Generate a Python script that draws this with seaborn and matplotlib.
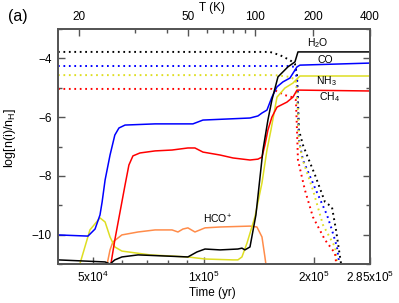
import numpy as np
import pandas as pd
import matplotlib
matplotlib.use("Agg")
import matplotlib.pyplot as plt
import seaborn as sns
from matplotlib.ticker import FixedLocator, NullFormatter, FixedFormatter

# ---------------- data (time in yr, log abundance) ----------------
h2o_t = [4.00e4, 5.38e4, 5.55e4, 5.72e4, 5.98e4, 6.62e4, 9.06e4, 9.59e4, 1.009e5, 1.109e5,
         1.241e5, 1.273e5, 1.297e5, 1.339e5, 1.390e5, 1.453e5, 1.499e5, 1.537e5, 1.597e5,
         1.700e5, 1.777e5, 1.811e5, 2.85e5]
h2o_v = [-10.86, -10.93, -11.0, -10.86, -10.76, -10.69, -10.76, -10.59, -10.49, -10.52,
         -10.49, -10.46, -10.52, -10.42, -9.33, -7.12, -6.10, -5.42, -4.63,
         -4.29, -4.12, -3.78, -3.78]

co_t = [4.00e4, 4.83e4, 5.05e4, 5.21e4, 5.28e4, 5.38e4, 5.55e4, 5.72e4, 5.87e4, 6.10e4,
        7.37e4, 9.35e4, 9.96e4, 1.180e5, 1.339e5, 1.408e5, 1.444e5, 1.490e5, 1.537e5,
        1.587e5, 1.648e5, 1.722e5, 1.800e5, 1.834e5, 2.85e5]
co_v = [-10.01, -10.05, -9.81, -9.33, -8.89, -8.14, -7.29, -6.61, -6.37, -6.27,
        -6.23, -6.23, -6.10, -6.06, -6.03, -5.96, -5.86, -5.76, -5.32,
        -4.97, -4.80, -4.67, -4.29, -4.23, -4.16]

ch4_t = [5.45e4, 5.58e4, 5.72e4, 5.91e4, 6.10e4, 6.25e4, 6.41e4, 6.70e4, 7.37e4, 8.20e4,
         9.06e4, 9.47e4, 9.96e4, 1.109e5, 1.203e5, 1.339e5, 1.408e5, 1.444e5, 1.471e5,
         1.499e5, 1.537e5, 1.587e5, 1.689e5, 1.755e5, 1.800e5, 1.822e5, 2.85e5]
ch4_v = [-11.27, -11.0, -10.18, -9.23, -8.31, -7.63, -7.32, -7.22, -7.15, -7.12,
         -7.05, -7.05, -7.19, -7.29, -7.39, -7.46, -7.43, -7.36, -6.95,
         -6.44, -6.00, -5.66, -5.49, -5.32, -5.08, -5.08, -5.11]

nh3_t = [4.54e4, 4.59e4, 4.89e4, 5.21e4, 5.38e4, 5.55e4, 5.72e4, 5.98e4, 7.14e4, 9.06e4,
         1.009e5, 1.203e5, 1.241e5, 1.273e5, 1.314e5, 1.381e5, 1.444e5, 1.490e5, 1.528e5,
         1.587e5, 1.668e5, 1.755e5, 1.800e5, 1.834e5, 2.85e5]
nh3_v = [-11.27, -11.0, -9.84, -9.43, -9.57, -10.08, -10.42, -10.56, -10.69, -10.76,
         -10.83, -10.86, -10.86, -10.76, -10.29, -9.40, -8.24, -7.12, -6.44,
         -5.32, -5.01, -4.84, -4.70, -4.60, -4.60]

hco_t = [5.41e4, 5.45e4, 5.55e4, 5.65e4, 5.98e4, 6.62e4, 7.37e4, 8.20e4, 8.51e4, 8.78e4,
         9.06e4, 9.47e4, 1.009e5, 1.109e5, 1.339e5, 1.399e5, 1.444e5, 1.471e5, 1.490e5]
hco_v = [-11.27, -11.0, -10.52, -10.25, -10.01, -9.91, -9.84, -9.84, -9.91, -9.81,
         -9.77, -9.91, -9.77, -9.74, -9.71, -9.74, -10.08, -10.76, -11.27]

h2o_d_t = [4.0e4, 1.518e5, 1.617e5, 1.722e5, 1.777e5, 1.800e5, 1.811e5, 1.822e5, 1.869e5,
           1.916e5, 2.016e5, 2.147e5, 2.243e5, 2.301e5, 2.360e5, 2.389e5]
h2o_d_v = [-3.78, -3.78, -3.89, -4.06, -4.19, -4.57, -5.42, -6.44, -6.95,
           -7.29, -7.97, -8.89, -9.06, -9.84, -10.76, -11.20]

co_d_t = [4.0e4, 1.700e5, 1.777e5, 1.800e5, 1.811e5, 1.822e5, 1.869e5, 2.016e5, 2.174e5,
          2.243e5, 2.315e5, 2.360e5]
co_d_v = [-4.26, -4.26, -4.29, -4.74, -5.76, -6.78, -7.46, -8.41, -9.33,
          -9.84, -10.42, -11.2]

nh3_d_t = [4.0e4, 1.567e5, 1.722e5, 1.788e5, 1.811e5, 1.822e5, 1.858e5, 1.990e5, 2.120e5,
           2.286e5, 2.330e5]
nh3_d_v = [-4.57, -4.57, -4.63, -4.74, -5.76, -6.78, -7.39, -8.48, -9.67,
           -10.42, -11.2]

ch4_d_t = [4.0e4, 1.537e5, 1.668e5, 1.744e5, 1.788e5, 1.800e5, 1.811e5, 1.892e5, 1.990e5,
           2.147e5, 2.286e5, 2.315e5]
ch4_d_v = [-5.04, -5.04, -5.25, -5.32, -5.42, -6.44, -7.46, -8.48, -9.40,
           -10.18, -10.63, -11.2]

# temperature axis ticks (T values and the times where they occur)
temp_major = [20, 50, 100, 200, 400]
temp_major_t = [4.564e4, 9.064e4, 1.3815e5, 1.9902e5, 2.85e5]
temp_minor_t = [6.494e4, 7.943e4, 1.0214e5, 1.1295e5, 1.2029e5, 1.2971e5]

x_ticks = [5e4, 1e5, 2e5, 2.85e5]
x_ticklabels = [r'5x10$^\mathregular{4}$', r'1x10$^\mathregular{5}$',
                r'2x10$^\mathregular{5}$', r'2.85x10$^\mathregular{5}$']

# ---------------- style ----------------
sns.set_theme(style="ticks")
plt.rcParams['font.family'] = ['Liberation Sans', 'DejaVu Sans']
plt.rcParams['mathtext.fontset'] = 'custom'
plt.rcParams['mathtext.rm'] = 'Liberation Sans'
plt.rcParams['mathtext.it'] = 'Liberation Sans:italic'
plt.rcParams['axes.unicode_minus'] = True
plt.rcParams['text.color'] = 'black'
plt.rcParams['axes.labelcolor'] = 'black'
plt.rcParams['xtick.labelcolor'] = 'black'
plt.rcParams['ytick.labelcolor'] = 'black'

spine_c = '#555555'
YEL = '#dede22'
ORG = '#ff8c4a'

fig = plt.figure(figsize=(3.99, 3.03), dpi=100)
ax = fig.add_axes([58/399, 1-264/303, 312/399, 235/303])

def draw(t, v, color, dotted=False):
    df = pd.DataFrame({'t': t, 'v': v})
    kw = dict(color=color, lw=1.1)
    if dotted:
        kw = dict(color=color, lw=1.4, linestyle=(0, (0.9, 1.9)))
    sns.lineplot(data=df, x='t', y='v', ax=ax, sort=False, estimator=None, **kw)

draw(h2o_d_t, h2o_d_v, 'black', True)
draw(co_d_t, co_d_v, '#0000ff', True)
draw(nh3_d_t, nh3_d_v, YEL, True)
draw(ch4_d_t, ch4_d_v, '#ff0000', True)
draw(hco_t, hco_v, ORG)
draw(nh3_t, nh3_v, YEL)
draw(ch4_t, ch4_v, '#ff0000')
draw(co_t, co_v, '#0000ff')
draw(h2o_t, h2o_v, 'black')

ax.set_xscale('log')
ax.set_xlim(4e4, 2.85e5)
ax.set_ylim(-11, -3)

ax.xaxis.set_major_locator(FixedLocator(x_ticks))
ax.xaxis.set_major_formatter(FixedFormatter(x_ticklabels))
ax.xaxis.set_minor_locator(FixedLocator([6e4, 7e4, 8e4, 9e4]))
ax.xaxis.set_minor_formatter(NullFormatter())
ax.yaxis.set_major_locator(FixedLocator([-10, -8, -6, -4]))
ax.yaxis.set_minor_locator(FixedLocator([-11, -9, -7, -5, -3]))

for s in ax.spines.values():
    s.set_color(spine_c)
    s.set_linewidth(1.3)

ax.tick_params(which='both', direction='in', color=spine_c, top=False, right=True,
               labelsize=8.5, labelcolor='black')
ax.tick_params(which='major', length=5, width=1.0)
ax.tick_params(which='minor', length=3, width=1.0)
ax.tick_params(axis='x', pad=4)
ax.tick_params(axis='y', pad=4.5)

ax.set_xlabel('Time (yr)', fontsize=8.5)
ax.set_ylabel(r'log[n(i)/n$_\mathregular{H}$]', fontsize=9)
ax.xaxis.set_label_coords(0.494, -0.098)
ax.yaxis.set_label_coords(-0.128, 0.536)

# top temperature axis
ax2 = ax.twiny()
ax2.set_xscale('log')
ax2.set_xlim(4e4, 2.85e5)
ax2.xaxis.set_major_locator(FixedLocator(temp_major_t))
ax2.xaxis.set_major_formatter(FixedFormatter([str(v) for v in temp_major]))
ax2.xaxis.set_minor_locator(FixedLocator(temp_minor_t))
ax2.xaxis.set_minor_formatter(NullFormatter())
for s in ax2.spines.values():
    s.set_color(spine_c)
    s.set_linewidth(1.3)
ax2.tick_params(which='both', direction='in', color=spine_c, labelsize=8.5, pad=4.5,
                labelcolor='black')
ax2.tick_params(which='major', length=5, width=1.0)
ax2.tick_params(which='minor', length=3, width=1.0)

# labels
fs = 7.5
ax.text(2.053e5, -3.477, r'H$_\mathregular{2}$O', fontsize=fs, ha='center', va='center')
ax.text(2.146e5, -4.04, 'CO', fontsize=fs, ha='center', va='center')
ax.text(2.160e5, -4.77, r'NH$_\mathregular{3}$', fontsize=fs, ha='center', va='center')
ax.text(2.215e5, -5.31, r'CH$_\mathregular{4}$', fontsize=fs, ha='center', va='center')
ax.text(1.094e5, -9.47, r'HCO$^\mathregular{+}$', fontsize=fs, ha='center', va='center')

fig.text(212/399, 1-8/303, 'T (K)', fontsize=8.5, ha='center', va='center')
fig.text(18/399, 1-16/303, '(a)', fontsize=11.5, ha='center', va='center')

fig.savefig('out.png', dpi=100)
